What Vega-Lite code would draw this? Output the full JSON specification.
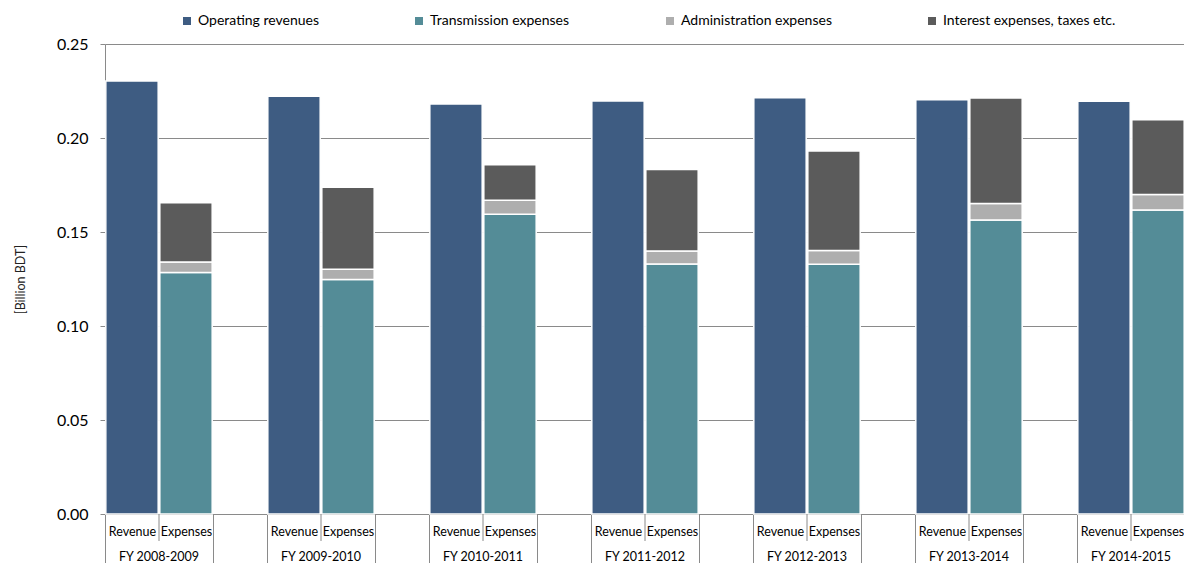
{
  "$schema": "https://vega.github.io/schema/vega-lite/v6.json",
  "width": 1080,
  "height": 470,
  "padding": {"left": 14, "top": 14, "right": 0, "bottom": 0},
  "config": {"view": {"stroke": null}, "font": "Lato"},
  "data": {
    "values": [
      {"slot": "2008-2009|Revenue", "fy": "FY 2008-2009", "series": "Operating revenues", "ord": 0, "value": 0.2303},
      {"slot": "2008-2009|Expenses", "fy": "FY 2008-2009", "series": "Transmission expenses", "ord": 1, "value": 0.1284},
      {"slot": "2008-2009|Expenses", "fy": "FY 2008-2009", "series": "Administration expenses", "ord": 2, "value": 0.0056},
      {"slot": "2008-2009|Expenses", "fy": "FY 2008-2009", "series": "Interest expenses, taxes etc.", "ord": 3, "value": 0.0316},
      {"slot": "2009-2010|Revenue", "fy": "FY 2009-2010", "series": "Operating revenues", "ord": 0, "value": 0.2222},
      {"slot": "2009-2010|Expenses", "fy": "FY 2009-2010", "series": "Transmission expenses", "ord": 1, "value": 0.1248},
      {"slot": "2009-2010|Expenses", "fy": "FY 2009-2010", "series": "Administration expenses", "ord": 2, "value": 0.0054},
      {"slot": "2009-2010|Expenses", "fy": "FY 2009-2010", "series": "Interest expenses, taxes etc.", "ord": 3, "value": 0.0436},
      {"slot": "2010-2011|Revenue", "fy": "FY 2010-2011", "series": "Operating revenues", "ord": 0, "value": 0.2181},
      {"slot": "2010-2011|Expenses", "fy": "FY 2010-2011", "series": "Transmission expenses", "ord": 1, "value": 0.1594},
      {"slot": "2010-2011|Expenses", "fy": "FY 2010-2011", "series": "Administration expenses", "ord": 2, "value": 0.0075},
      {"slot": "2010-2011|Expenses", "fy": "FY 2010-2011", "series": "Interest expenses, taxes etc.", "ord": 3, "value": 0.0189},
      {"slot": "2011-2012|Revenue", "fy": "FY 2011-2012", "series": "Operating revenues", "ord": 0, "value": 0.2197},
      {"slot": "2011-2012|Expenses", "fy": "FY 2011-2012", "series": "Transmission expenses", "ord": 1, "value": 0.1330},
      {"slot": "2011-2012|Expenses", "fy": "FY 2011-2012", "series": "Administration expenses", "ord": 2, "value": 0.0069},
      {"slot": "2011-2012|Expenses", "fy": "FY 2011-2012", "series": "Interest expenses, taxes etc.", "ord": 3, "value": 0.0434},
      {"slot": "2012-2013|Revenue", "fy": "FY 2012-2013", "series": "Operating revenues", "ord": 0, "value": 0.2214},
      {"slot": "2012-2013|Expenses", "fy": "FY 2012-2013", "series": "Transmission expenses", "ord": 1, "value": 0.1328},
      {"slot": "2012-2013|Expenses", "fy": "FY 2012-2013", "series": "Administration expenses", "ord": 2, "value": 0.0073},
      {"slot": "2012-2013|Expenses", "fy": "FY 2012-2013", "series": "Interest expenses, taxes etc.", "ord": 3, "value": 0.0530},
      {"slot": "2013-2014|Revenue", "fy": "FY 2013-2014", "series": "Operating revenues", "ord": 0, "value": 0.2204},
      {"slot": "2013-2014|Expenses", "fy": "FY 2013-2014", "series": "Transmission expenses", "ord": 1, "value": 0.1564},
      {"slot": "2013-2014|Expenses", "fy": "FY 2013-2014", "series": "Administration expenses", "ord": 2, "value": 0.0087},
      {"slot": "2013-2014|Expenses", "fy": "FY 2013-2014", "series": "Interest expenses, taxes etc.", "ord": 3, "value": 0.0562},
      {"slot": "2014-2015|Revenue", "fy": "FY 2014-2015", "series": "Operating revenues", "ord": 0, "value": 0.2195},
      {"slot": "2014-2015|Expenses", "fy": "FY 2014-2015", "series": "Transmission expenses", "ord": 1, "value": 0.1617},
      {"slot": "2014-2015|Expenses", "fy": "FY 2014-2015", "series": "Administration expenses", "ord": 2, "value": 0.0082},
      {"slot": "2014-2015|Expenses", "fy": "FY 2014-2015", "series": "Interest expenses, taxes etc.", "ord": 3, "value": 0.0398}
    ]
  },
  "encoding": {
    "x": {
      "field": "slot",
      "type": "nominal",
      "sort": null,
      "scale": {
        "domain": ["2008-2009|Revenue", "2008-2009|Expenses", "2008-2009|gap", "2009-2010|Revenue", "2009-2010|Expenses", "2009-2010|gap", "2010-2011|Revenue", "2010-2011|Expenses", "2010-2011|gap", "2011-2012|Revenue", "2011-2012|Expenses", "2011-2012|gap", "2012-2013|Revenue", "2012-2013|Expenses", "2012-2013|gap", "2013-2014|Revenue", "2013-2014|Expenses", "2013-2014|gap", "2014-2015|Revenue", "2014-2015|Expenses"],
        "paddingInner": 0,
        "paddingOuter": 0
      },
      "axis": {
        "title": null,
        "domain": true,
        "domainColor": "#8a8a8a",
        "grid": false,
        "tickBand": "extent",
        "tickColor": "#8a8a8a",
        "tickSize": 50,
        "tickOpacity": {"condition": {"test": "!datum.extra && isString(datum.value) && indexof(datum.value, '|Revenue') >= 0", "value": 0}, "value": 1},
        "labelExpr": "isString(datum.value) ? replace(replace(datum.value, /^.*\\|/, ''), 'gap', '') : ''",
        "labelAngle": 0,
        "labelFontSize": 12.5,
        "labelColor": "#000000",
        "labelPadding": -39,
        "labelOverlap": false,
        "labelBound": false
      }
    }
  },
  "layer": [
    {
      "mark": {"type": "bar", "width": {"band": 0.97}, "stroke": "#ffffff", "strokeWidth": 1.5},
      "encoding": {
        "y": {
          "field": "value",
          "type": "quantitative",
          "stack": "zero",
          "scale": {"domain": [0, 0.25], "nice": false},
          "axis": {
            "title": "[Billion BDT]",
            "values": [0, 0.05, 0.1, 0.15, 0.2, 0.25],
            "format": ".2f",
            "labelFontSize": 16,
            "labelColor": "#000000",
            "tickSize": 5,
            "tickColor": "#8a8a8a",
            "labelPadding": 12,
            "domainColor": "#8a8a8a",
            "gridColor": "#8a8a8a",
            "gridOpacity": 1,
            "titleFontSize": 12.5,
            "titleFontWeight": "normal",
            "titleColor": "#222222",
            "titlePadding": 29
          }
        },
        "color": {
          "field": "series",
          "type": "nominal",
          "scale": {
            "domain": ["Operating revenues", "Transmission expenses", "Administration expenses", "Interest expenses, taxes etc."],
            "range": ["#3e5c82", "#548c97", "#aeaeae", "#5b5b5b"]
          },
          "legend": {
            "orient": "none",
            "legendX": 75,
            "legendY": -30,
            "direction": "horizontal",
            "title": null,
            "symbolType": "square",
            "symbolSize": 64,
            "symbolStrokeWidth": 0,
            "labelFontSize": 14,
            "labelLimit": 400,
            "labelColor": "#000000",
            "labelOffset": 4,
            "columnPadding": 93
          }
        },
        "order": {"field": "ord", "type": "quantitative"}
      }
    },
    {
      "transform": [{"filter": "datum.series == 'Transmission expenses'"}],
      "mark": {"type": "rule", "color": "#8a8a8a", "y2Offset": 27},
      "encoding": {
        "x": {"field": "slot", "type": "nominal", "bandPosition": 0},
        "y": {"datum": 0},
        "y2": {"datum": 0}
      }
    },
    {
      "transform": [{"filter": "datum.series == 'Transmission expenses'"}],
      "mark": {"type": "text", "dy": 43, "fontSize": 12.5, "color": "#000000", "baseline": "middle"},
      "encoding": {
        "x": {"field": "slot", "type": "nominal", "bandPosition": 0},
        "y": {"datum": 0},
        "text": {"field": "fy"}
      }
    }
  ]
}
